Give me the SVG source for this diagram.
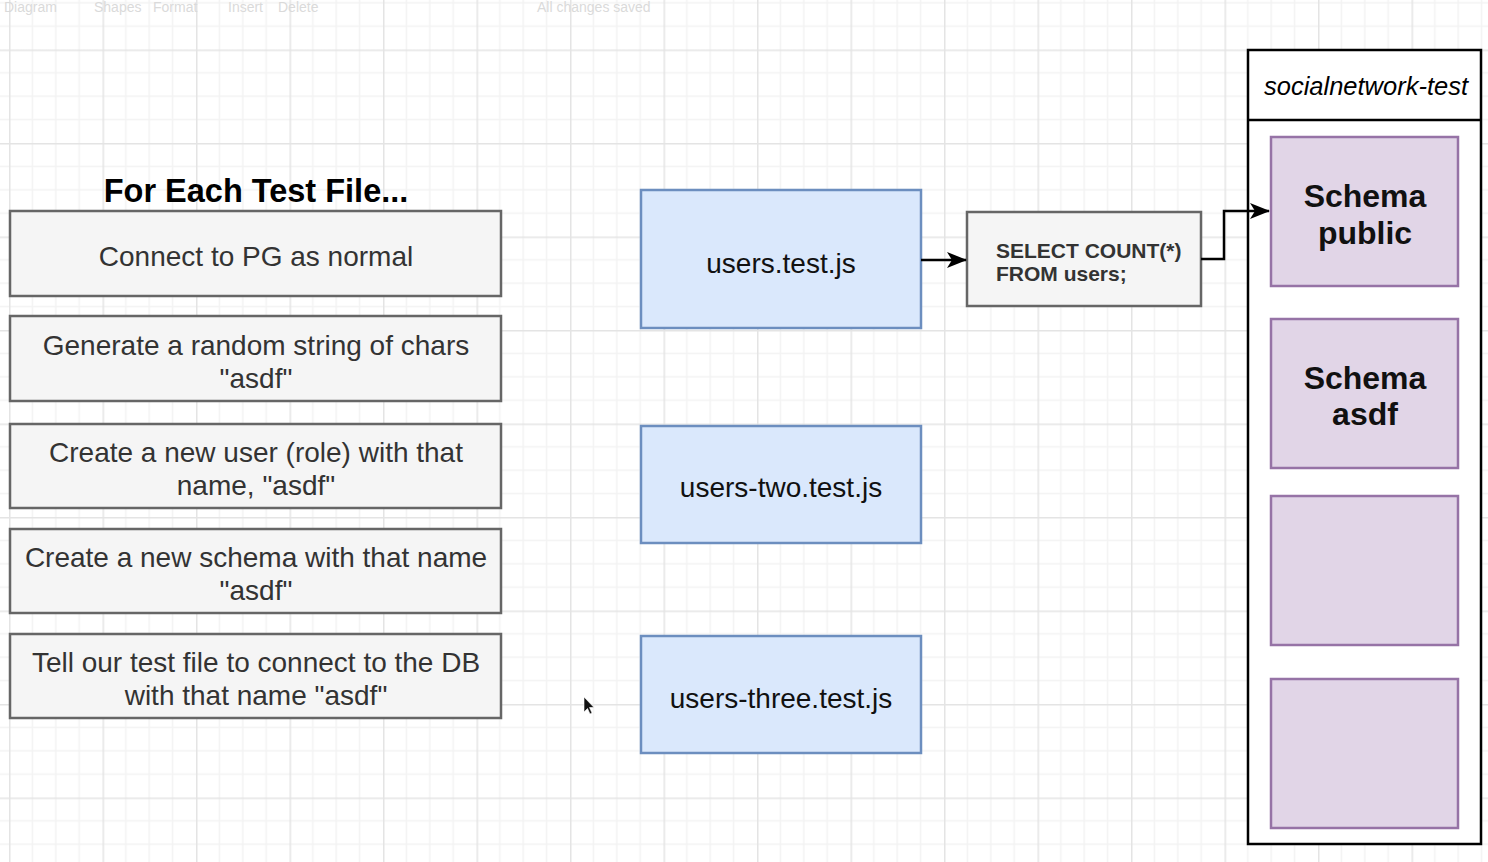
<svg xmlns="http://www.w3.org/2000/svg" width="1488" height="862" viewBox="0 0 1488 862">
<style>
  .t { font-family: "Liberation Sans", Arial, sans-serif; }
  .step rect { fill: #f5f5f5; stroke: #666666; stroke-width: 2.5; }
  .step text { font-size: 28px; fill: #333333; text-anchor: middle; }
  .file rect { fill: #dae8fc; stroke: #6c8ebf; stroke-width: 2.5; }
  .file text { font-size: 28px; fill: #111111; text-anchor: middle; }
  .schema rect { fill: #e1d5e7; stroke: #9673a6; stroke-width: 2.5; }
  .schema text { font-size: 32px; font-weight: bold; fill: #111111; text-anchor: middle; }
  .conn { fill: none; stroke: #000000; stroke-width: 2.5; }
  .tb { font-size: 14px; fill: #dadada; }
</style>
<defs>
  <pattern id="grid" x="9" y="49.5" width="93.5" height="93.5" patternUnits="userSpaceOnUse">
    <path d="M23.375 0V93.5M46.75 0V93.5M70.125 0V93.5M0 23.375H93.5M0 46.75H93.5M0 70.125H93.5" stroke="#f3f3f3" stroke-width="1.5" fill="none"/>
    <path d="M0.75 0V93.5M0 0.75H93.5" stroke="#e4e4e4" stroke-width="1.5" fill="none"/>
  </pattern>
  <marker id="arr" viewBox="0 0 20 16" refX="19" refY="8" markerWidth="20" markerHeight="16" markerUnits="userSpaceOnUse" orient="auto">
    <path d="M0 0L20 8L0 16L5 8Z" fill="#000000"/>
  </marker>
</defs>
<rect x="0" y="0" width="1488" height="862" fill="#ffffff"/>
<rect x="0" y="0" width="1488" height="862" fill="url(#grid)"/>

<g id="toolbar" class="t">
  <text class="tb" x="4" y="12">Diagram</text>
  <text class="tb" x="94" y="12">Shapes</text>
  <text class="tb" x="153" y="12">Format</text>
  <text class="tb" x="228" y="12">Insert</text>
  <text class="tb" x="278" y="12" fill="#ececec">Delete</text>
  <text class="tb" x="537" y="12">All changes saved</text>
</g>

<g id="title" class="t">
  <text x="256" y="202" font-size="32.5" font-weight="bold" text-anchor="middle" fill="#000">For Each Test File...</text>
</g>

<g id="step1" class="step t">
  <rect x="10" y="211" width="491" height="85"/>
  <text x="256" y="266">Connect to PG as normal</text>
</g>
<g id="step2" class="step t">
  <rect x="10" y="316" width="491" height="85"/>
  <text x="256" y="355">Generate a random string of chars</text>
  <text x="256" y="388">"asdf"</text>
</g>
<g id="step3" class="step t">
  <rect x="10" y="424" width="491" height="84"/>
  <text x="256" y="462">Create a new user (role) with that</text>
  <text x="256" y="495">name, "asdf"</text>
</g>
<g id="step4" class="step t">
  <rect x="10" y="529" width="491" height="84"/>
  <text x="256" y="567">Create a new schema with that name</text>
  <text x="256" y="600">"asdf"</text>
</g>
<g id="step5" class="step t">
  <rect x="10" y="634" width="491" height="84"/>
  <text x="256" y="672">Tell our test file to connect to the DB</text>
  <text x="256" y="705">with that name "asdf"</text>
</g>

<g id="file1" class="file t">
  <rect x="641" y="190" width="280" height="138"/>
  <text x="781" y="273">users.test.js</text>
</g>
<g id="file2" class="file t">
  <rect x="641" y="426" width="280" height="117"/>
  <text x="781" y="497">users-two.test.js</text>
</g>
<g id="file3" class="file t">
  <rect x="641" y="636" width="280" height="117"/>
  <text x="781" y="708">users-three.test.js</text>
</g>

<g id="query" class="t">
  <rect x="967" y="212" width="234" height="94" fill="#f5f5f5" stroke="#666666" stroke-width="2.5"/>
  <text x="996" y="258" font-size="21" font-weight="bold" fill="#333333">SELECT COUNT(*)</text>
  <text x="996" y="281" font-size="21" font-weight="bold" fill="#333333">FROM users;</text>
</g>

<g id="database" class="t">
  <rect x="1248" y="50" width="233" height="794" fill="#ffffff" stroke="#000000" stroke-width="2.5"/>
  <line x1="1248" y1="120" x2="1481" y2="120" stroke="#000000" stroke-width="2.5"/>
  <text x="1366" y="95" font-size="25.5" font-style="italic" text-anchor="middle" fill="#000">socialnetwork-test</text>
</g>
<g id="schema-public" class="schema t">
  <rect x="1271" y="137" width="187" height="149"/>
  <text x="1365" y="207">Schema</text>
  <text x="1365" y="244">public</text>
</g>
<g id="schema-asdf" class="schema t">
  <rect x="1271" y="319" width="187" height="149"/>
  <text x="1365" y="389">Schema</text>
  <text x="1365" y="425">asdf</text>
</g>
<g id="schema-3" class="schema">
  <rect x="1271" y="496" width="187" height="149"/>
</g>
<g id="schema-4" class="schema">
  <rect x="1271" y="679" width="187" height="149"/>
</g>

<g id="connectors">
  <path class="conn" d="M921 260H966" marker-end="url(#arr)"/>
  <path class="conn" d="M1201 259H1224V211H1269" marker-end="url(#arr)"/>
</g>

<path d="M584 697L584 712L587.5 708.5L590 714L592 713L589.5 707.5L594 707.5Z" fill="#111" stroke="#fff" stroke-width="0.6"/>
</svg>
